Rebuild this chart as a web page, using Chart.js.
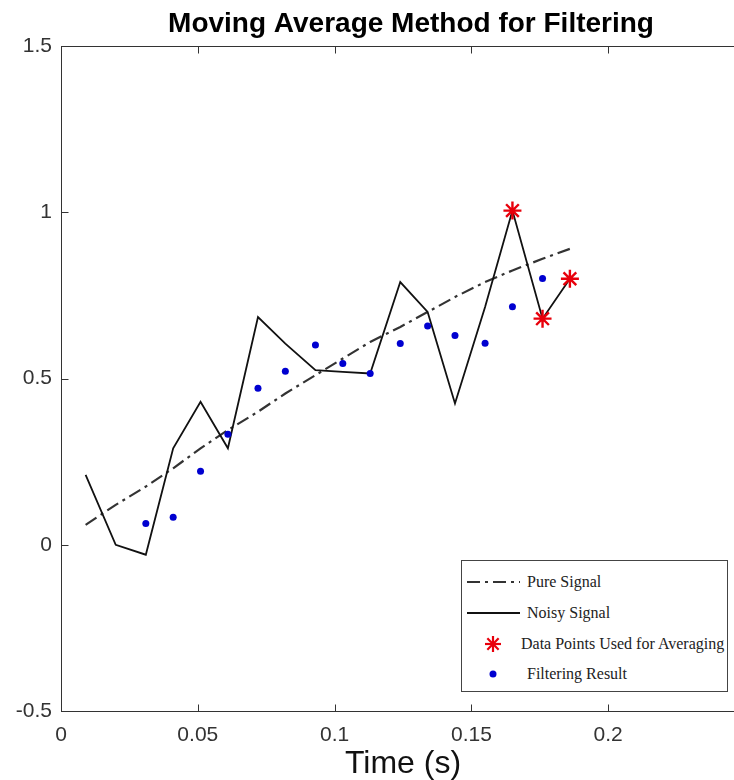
<!DOCTYPE html>
<html lang="en">
<head>
  <meta charset="UTF-8" />
  <title>Moving Average Method for Filtering</title>
  <script src="https://cdn.jsdelivr.net/npm/chart.js"></script>
  <style>
    html, body { margin: 0; padding: 0; background: #fff; overflow: hidden; }
    .wrap { position: relative; width: 822px; height: 780px; }
    #legend {
      position: absolute; left: 461px; top: 560px; width: 267px; height: 132px;
      box-sizing: border-box; border: 1px solid #444; background: #fff;
      padding-top: 6px;
      font-family: "Liberation Serif", "Times New Roman", serif; font-size: 16px; color: #222;
    }
    #legend .row { height: 30.7px; display: flex; align-items: center; white-space: nowrap; }
    #legend svg { margin-left: 5px; flex: none; }
  </style>
</head>
<body>
  <div class="wrap">
    <canvas id="grafico" width="822" height="780"></canvas>
    <div id="legend"></div>
  </div>

  <script>
    // valores
    const times = [0.009, 0.020, 0.031, 0.041, 0.051, 0.061, 0.072, 0.082, 0.093,
                   0.103, 0.113, 0.124, 0.134, 0.144, 0.155, 0.165, 0.176, 0.186];
    const pureSignal = [0.06, 0.12, 0.175, 0.23, 0.29, 0.345, 0.40, 0.455, 0.51,
                        0.56, 0.61, 0.655, 0.70, 0.745, 0.79, 0.825, 0.86, 0.89];
    const noisySignal = [0.21, 0.00, -0.03, 0.29, 0.43, 0.29, 0.685, 0.605, 0.525,
                         0.52, 0.515, 0.79, 0.70, 0.425, 0.715, 1.005, 0.68, 0.80];
    const starTimes = [0.165, 0.176, 0.186];
    const starValues = [1.005, 0.68, 0.80];
    const filterTimes = [0.031, 0.041, 0.051, 0.061, 0.072, 0.082, 0.093, 0.103,
                         0.113, 0.124, 0.134, 0.144, 0.155, 0.165, 0.176];
    const filterValues = [0.064, 0.083, 0.221, 0.332, 0.471, 0.522, 0.601, 0.545,
                          0.515, 0.605, 0.658, 0.629, 0.606, 0.716, 0.801];
    const xTicks = [0, 0.05, 0.1, 0.15, 0.2];
    const yTicks = [-0.5, 0, 0.5, 1, 1.5];

    const toPoints = (xs, ys) => xs.map((x, i) => ({ x: x, y: ys[i] }));

    // caixa e marcas para dentro, estilo matlab
    const axesBox = {
      id: 'axesBox',
      afterDraw(chart) {
        const { ctx, chartArea: a, scales: { x, y } } = chart;
        const L = Math.round(a.left) + 0.5, T = Math.round(a.top) + 0.5;
        const R = Math.round(a.right) + 0.5, B = Math.round(a.bottom) + 0.5;
        ctx.save();
        ctx.strokeStyle = '#333';
        ctx.lineWidth = 1;
        ctx.strokeRect(L, T, R - L, B - T);
        ctx.beginPath();
        x.ticks.forEach(t => {
          const px = Math.round(x.getPixelForValue(t.value)) + 0.5;
          ctx.moveTo(px, B); ctx.lineTo(px, B - 7);
          ctx.moveTo(px, T); ctx.lineTo(px, T + 7);
        });
        y.ticks.forEach(t => {
          const py = Math.round(y.getPixelForValue(t.value)) + 0.5;
          ctx.moveTo(L, py); ctx.lineTo(L + 7, py);
          ctx.moveTo(R, py); ctx.lineTo(R - 7, py);
        });
        ctx.stroke();
        ctx.restore();
      }
    };

    function swatch(ds) {
      const s = [];
      if (ds.showLine) {
        const dash = ds.borderDash ? ` stroke-dasharray="${ds.borderDash.join(' ')}"` : '';
        s.push(`<line x1="0" y1="10" x2="53" y2="10" stroke="${ds.borderColor}" stroke-width="${ds.borderWidth}"${dash}/>`);
      } else if (ds.pointStyle === 'star') {
        const r = 8;
        for (let k = 0; k < 4; k++) {
          const ang = k * Math.PI / 4;
          const dx = Math.cos(ang) * r, dy = Math.sin(ang) * r;
          s.push(`<line x1="${26 - dx}" y1="${10 - dy}" x2="${26 + dx}" y2="${10 + dy}" stroke="${ds.borderColor}" stroke-width="2.2"/>`);
        }
      } else {
        s.push(`<circle cx="26" cy="10" r="3.5" fill="${ds.backgroundColor}"/>`);
      }
      return `<svg width="60" height="20">${s.join('')}</svg>`;
    }

    function buildLegend(chart) {
      const box = document.getElementById('legend');
      box.innerHTML = chart.data.datasets.map(ds => {
        const shift = ds.pointStyle === 'star' ? ' style="margin-left:-6px"' : '';
        return `<div class="row">${swatch(ds)}<span${shift}>${ds.label}</span></div>`;
      }).join('');
    }

    const tickFont = { family: 'Liberation Sans, Arial, sans-serif', size: 21 };

    const chart = new Chart(document.getElementById('grafico'), {
      type: 'scatter',
      data: {
        datasets: [
          {
            label: 'Pure Signal',
            data: toPoints(times, pureSignal),
            showLine: true,
            borderColor: '#333333',
            borderWidth: 2.2,
            borderDash: [13, 5, 3, 5],
            pointRadius: 0,
            order: 4
          },
          {
            label: 'Noisy Signal',
            data: toPoints(times, noisySignal),
            showLine: true,
            borderColor: '#111111',
            borderWidth: 1.8,
            pointRadius: 0,
            order: 3
          },
          {
            label: 'Data Points Used for Averaging',
            data: toPoints(starTimes, starValues),
            pointStyle: 'star',
            pointRadius: 9,
            borderColor: '#e8000b',
            backgroundColor: '#e8000b',
            borderWidth: 2.4,
            order: 1
          },
          {
            label: 'Filtering Result',
            data: toPoints(filterTimes, filterValues),
            pointStyle: 'circle',
            pointRadius: 3.5,
            borderWidth: 0,
            borderColor: '#0000d0',
            backgroundColor: '#0000d0',
            order: 2
          }
        ]
      },
      options: {
        responsive: false,
        animation: false,
        events: [],
        layout: { padding: 0 },
        plugins: {
          legend: { display: false },
          tooltip: { enabled: false },
          title: {
            display: true,
            text: 'Moving Average Method for Filtering',
            color: '#000',
            font: { family: 'Liberation Sans, Arial, sans-serif', size: 28, weight: 'bold', lineHeight: 1 },
            padding: { top: 10, bottom: 8 }
          }
        },
        scales: {
          x: {
            type: 'linear',
            min: 0,
            max: 0.25,
            grid: { display: false, drawTicks: false },
            border: { display: false },
            afterBuildTicks: s => { s.ticks = xTicks.map(v => ({ value: v })); },
            afterFit: s => { s.height = 69; },
            ticks: { color: '#333', font: tickFont, padding: 12, maxRotation: 0, autoSkip: false, callback: v => String(v) },
            title: {
              display: true,
              text: 'Time (s)',
              color: '#111',
              font: { family: 'Liberation Sans, Arial, sans-serif', size: 32, lineHeight: 1 },
              padding: 0
            }
          },
          y: {
            min: -0.5,
            max: 1.5,
            grid: { display: false, drawTicks: false },
            border: { display: false },
            afterBuildTicks: s => { s.ticks = yTicks.map(v => ({ value: v })); },
            afterFit: s => { s.width = 61; },
            ticks: { color: '#333', font: tickFont, padding: 9, callback: v => String(v) }
          },
          yRight: {
            position: 'right',
            grid: { display: false, drawTicks: false },
            border: { display: false },
            ticks: { display: false },
            afterFit: s => { s.width = 77; }
          }
        }
      },
      plugins: [axesBox]
    });

    buildLegend(chart);
  </script>
</body>
</html>
